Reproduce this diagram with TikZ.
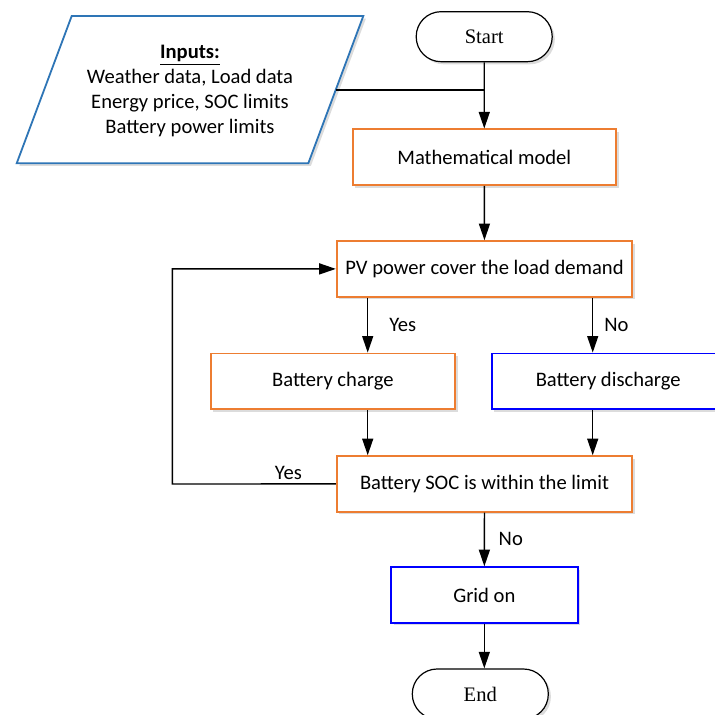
\documentclass[tikz,border=0pt]{standalone}
\usepackage{fontspec}
\setmainfont{Carlito}
\newfontfamily\termfont{Liberation Serif}
\usetikzlibrary{arrows.meta, positioning, calc, shadows}
\definecolor{fcOrange}{HTML}{ED7D31}
\definecolor{fcBlue}{HTML}{0000FF}
\definecolor{fcSky}{HTML}{2E75B6}
\tikzset{
  soft/.style={drop shadow={shadow xshift=1.3pt, shadow yshift=-1.3pt, opacity=0.3, fill=black!45}},
  box/.style={
    draw=fcOrange, line width=0.9pt, fill=white, inner sep=0pt,
    align=center, font=\fontsize{10.3}{12.5}\selectfont,
    minimum height=27.8pt, soft
  },
  bluebox/.style={box, draw=fcBlue},
  term/.style={box, draw=black, line width=0.6pt, rounded corners=12.4pt,
    minimum height=25pt, minimum width=68pt,
    font=\termfont\fontsize{10.3}{12.5}\selectfont},
  flow/.style={-{Triangle[length=8.3pt, width=5.5pt]}, line width=0.7pt, draw=black},
  link/.style={line width=0.7pt, draw=black},
  lbl/.style={font=\fontsize{10.3}{12.5}\selectfont, inner sep=0pt},
}

\begin{document}
\begin{tikzpicture}[x=0.5pt, y=-0.5pt]
  \useasboundingbox (0,0) rectangle (715,715);
  % input data block
  \draw[draw=fcSky, line width=0.9pt, fill=white, soft]
    (71.7,16) -- (363.3,16) -- (308.3,163.3) -- (16.7,163.3) -- cycle;
  \node[lbl, align=center] (inputs) at (190,90.5)
    {\underline{\textbf{Inputs:}}\\Weather data, Load data\\Energy price, SOC limits\\Battery power limits};
  \coordinate (inputsR) at (335.7,90);
  % flow blocks
  \node[term] (start) at (484.2,36.7) {Start};
  \node[box, minimum width=131.7pt] (model) at (484.3,157.2) {Mathematical model};
  \node[box, minimum width=147.8pt] (pv) at (484.5,268.9) {PV power cover the load demand};
  \node[box, minimum width=122.2pt] (charge) at (332.9,381.3) {Battery charge};
  \node[bluebox, minimum width=116.5pt] (discharge) at (608.2,381.3) {Battery discharge};
  \node[box, minimum width=147.8pt] (soc) at (484.5,483.9) {Battery SOC is within the limit};
  \node[bluebox, minimum width=93.3pt] (grid) at (484.3,595) {Grid on};
  \node[term] (end) at (480.3,694) {End};
  \coordinate (yesCol) at (367.7,0);
  \coordinate (noCol) at (592.7,0);
  \coordinate (loop) at (172.3,484);
  % connectors
  \draw[flow] (start) -- (model);
  \draw[link] (inputsR) -- (inputsR -| start);
  \draw[flow] (model) -- (pv);
  \draw[flow] (pv.south -| yesCol) -- (charge.north -| yesCol)
    node[lbl, midway, right=10.5pt] {Yes};
  \draw[flow] (pv.south -| noCol) -- (discharge.north -| noCol)
    node[lbl, midway, right=5.5pt] {No};
  \draw[flow] (charge.south -| yesCol) -- (soc.north -| yesCol);
  \draw[flow] (discharge.south -| noCol) -- (soc.north -| noCol);
  \draw[flow] (soc.west) -- (loop) node[lbl, pos=0.29, above=2pt] {Yes} |- (pv.west);
  \draw[flow] (soc) -- (grid) node[lbl, midway, right=6.8pt] {No};
  \draw[flow] (grid) -- (grid.south |- end.north);
\end{tikzpicture}
\end{document}
